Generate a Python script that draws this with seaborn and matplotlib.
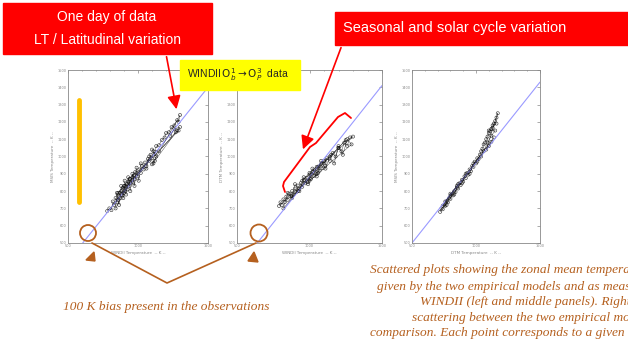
import numpy as np
import pandas as pd
import matplotlib
matplotlib.use('Agg')
import matplotlib.pyplot as plt
import seaborn as sns
from matplotlib.patches import Rectangle, Circle, Polygon

# Dados (temperaturas em K)
esq_x = [780, 795, 810, 820, 830, 840, 850, 855, 860, 870, 875, 880, 890, 895, 900, 905, 910, 920,
         925, 930, 940, 945, 950, 960, 965, 970, 980, 990, 1000, 1010, 1020, 1030, 1040, 1050, 1060,
         1070, 1080, 1090, 1100, 1110, 1120, 1130, 1150, 1170, 1190, 1200, 1220, 1240, 1260, 1280,
         1290, 1300, 1100, 1120, 1270, 1290, 860, 900, 940, 980,
         840, 850, 865, 880, 895, 905, 915, 930, 945, 960, 975, 990, 1005, 1020, 1060, 1080, 1110,
         1130, 1100, 1150, 1280, 1300, 1260, 1230]
esq_y = [685, 700, 690, 740, 720, 760, 735, 780, 750, 790, 760, 800, 775, 820, 790, 830, 800, 840,
         810, 855, 830, 870, 845, 880, 850, 890, 870, 905, 885, 925, 905, 945, 925, 965, 945,
         985, 975, 1010, 990, 1030, 1015, 1060, 1065, 1095, 1110, 1135, 1140, 1170, 1180, 1210,
         1200, 1240, 955, 975, 1140, 1150, 790, 830, 870, 910,
         700, 790, 720, 830, 760, 860, 780, 880, 800, 900, 830, 935, 860, 960, 930, 1000, 960,
         1000, 1040, 1030, 1150, 1170, 1160, 1120]

meio_x = [790, 800, 810, 820, 830, 840, 850, 860, 870, 880, 890, 900, 910, 920, 930, 940, 950, 960,
          970, 980, 990, 1000, 1010, 1020, 1030, 1040, 1050, 1060, 1070, 1080, 1090, 1100, 1110,
          1120, 1140, 1160, 1180, 1200, 1220, 1240, 1260, 1280, 1300, 950, 1000, 1050, 1100, 1150,
          1200, 1250, 880, 920,
          820, 850, 880, 900, 930, 960, 990, 1020, 1050, 1080, 1110, 1140, 1170, 1200, 1230, 1260,
          1290, 1000, 1060]
meio_y = [714, 735, 720, 752, 737, 768, 750, 785, 770, 800, 780, 815, 795, 832, 812, 846, 825, 862,
          845, 877, 852, 895, 870, 910, 888, 925, 900, 942, 918, 958, 932, 972, 948, 990, 975,
          1020, 1000, 1050, 1030, 1080, 1062, 1110, 1115, 860, 905, 940, 975, 1010, 1050, 1095,
          770, 800,
          700, 790, 760, 840, 800, 880, 840, 930, 885, 975, 930, 1000, 960, 1060, 1010, 1100,
          1070, 860, 905]

dir_x = [720, 730, 740, 750, 760, 770, 780, 790, 800, 810, 820, 830, 840, 850, 860, 870, 880, 890,
         900, 910, 920, 930, 940, 950, 960, 970, 980, 990, 1000, 1010, 1020, 1030, 1040, 1050,
         1060, 1070, 1080, 1090, 1100, 1110, 1120, 1130, 1140, 1150, 1160, 1170, 1080, 1100,
         1120, 1140, 760, 800, 850,
         740, 770, 800, 830, 860, 890, 920, 950, 980, 1010, 1040, 1060, 1090, 1120, 1150, 1100,
         1130, 1160]
dir_y = [680, 700, 695, 720, 715, 740, 735, 760, 755, 780, 775, 800, 795, 820, 815, 845, 835, 865,
         855, 885, 875, 905, 895, 925, 915, 945, 940, 970, 960, 990, 985, 1010, 1030, 1045,
         1070, 1080, 1100, 1115, 1135, 1145, 1160, 1165, 1190, 1205, 1225, 1250, 1040, 1060,
         1085, 1110, 740, 775, 830,
         715, 720, 785, 780, 840, 845, 900, 900, 960, 970, 1000, 1030, 1080, 1120, 1150, 1150,
         1180, 1190]

# Linhas de referência (extremos)
ref_esq_x, ref_esq_y = [605, 1500], [500, 1400]
ref_meio_x, ref_meio_y = [640, 1500], [500, 1410]
ref_dir_x, ref_dir_y = [500, 1500], [500, 1430]

paineis = [
    ('esq', esq_x, esq_y, ref_esq_x, ref_esq_y, 'WINDII Temperature  -- K --', 'MSIS Temperature  -- K --',
     [68, 208]),
    ('meio', meio_x, meio_y, ref_meio_x, ref_meio_y, 'WINDII Temperature  -- K --', 'DTM Temperature  -- K --',
     [237, 382]),
    ('dir', dir_x, dir_y, ref_dir_x, ref_dir_y, 'DTM Temperature  -- K --', 'MSIS Temperature  -- K --',
     [412, 540]),
]

W, H = 628, 341
sns.set_style('white')
fig = plt.figure(figsize=(W / 100, H / 100), dpi=100)

cinza = '#888888'
for nome, xs, ys, rx, ry, xl, yl, (px0, px1) in paineis:
    ax = fig.add_axes([px0 / W, 1 - 243 / H, (px1 - px0) / W, 173 / H])
    df = pd.DataFrame({'x': xs, 'y': ys})
    sns.lineplot(x=rx, y=ry, ax=ax, color='#9a9aff', lw=0.8)
    # traços que ligam os pontos, como no original
    sns.lineplot(data=df, x='x', y='y', ax=ax, sort=False, estimator=None, color='black',
                 lw=0.4, alpha=0.6)
    sns.scatterplot(data=df, x='x', y='y', ax=ax, marker='o', s=5, facecolors='none',
                    edgecolor='black', linewidth=0.45, alpha=0.75)
    ax.set_xlim(500, 1500)
    ax.set_ylim(500, 1500)
    ax.set_xticks([500, 1000, 1500])
    ax.set_xticks(np.arange(500, 1501, 100), minor=True)
    ax.set_yticks(np.arange(500, 1501, 100))
    ax.tick_params(axis='both', which='both', direction='in', length=2, width=0.5, color=cinza,
                   labelsize=2.5, labelcolor=cinza, top=True, right=True, pad=1)
    ax.tick_params(which='minor', length=1)
    ax.set_xlabel(xl, fontsize=3, color=cinza, labelpad=2)
    ax.set_ylabel(yl, fontsize=3, color=cinza, labelpad=2)
    for sp in ax.spines.values():
        sp.set_color(cinza)
        sp.set_linewidth(0.6)

# Camada de anotações em pixels
ov = fig.add_axes([0, 0, 1, 1])
ov.set_xlim(0, W)
ov.set_ylim(H, 0)
ov.axis('off')
ov.patch.set_alpha(0)

vermelho = '#ff0000'
marrom = '#b5601f'

# Caixas vermelhas
ov.add_patch(Rectangle((3, 3), 209, 51, color=vermelho))
ov.text(107, 17, 'One day of data', color='white', fontsize=10, ha='center', va='center',
        family='Liberation Sans')
ov.text(107, 40, 'LT / Latitudinal variation', color='white', fontsize=10, ha='center', va='center',
        family='Liberation Sans')
ov.add_patch(Rectangle((335, 12), 300, 33, color=vermelho))
ov.text(343, 28, 'Seasonal and solar cycle variation', color='white', fontsize=10.5, ha='left',
        va='center', family='Liberation Sans')

# Caixa amarela
ov.add_patch(Rectangle((180, 60), 120, 30, color='#ffff00'))
ov.text(187, 75, r'WINDII$\,\mathrm{O}_b^1 \rightarrow \mathrm{O}_P^3$  data', fontsize=7.5,
        ha='left', va='center', family='Liberation Sans')

# Setas vermelhas
ov.annotate('', xy=(177, 112), xytext=(166, 54),
            arrowprops=dict(arrowstyle='-|>,head_length=0.8,head_width=0.4', color=vermelho, lw=1.2))
ov.annotate('', xy=(302, 152), xytext=(342, 45),
            arrowprops=dict(arrowstyle='-|>,head_length=0.8,head_width=0.4', color=vermelho, lw=1.2))
# Colchete
bx = [285, 283, 284, 310, 316, 338, 345, 351]
by = [192, 186, 182, 147, 143, 117, 113, 118]
ov.plot(bx, by, color=vermelho, lw=1.3, solid_capstyle='round', solid_joinstyle='round')

# Barra laranja
ov.plot([79, 79], [100, 202], color='#ffc000', lw=3.5, solid_capstyle='round')

# Círculos marrons e linhas
ov.add_patch(Circle((88, 233), 8, fill=False, ec=marrom, lw=1.3))
ov.add_patch(Circle((259, 233), 8.5, fill=False, ec=marrom, lw=1.3))
ov.plot([92, 167, 256], [243, 283, 243], color=marrom, lw=1.2)
ov.add_patch(Polygon([[86, 260], [94, 252], [95, 261]], color=marrom))
ov.add_patch(Polygon([[248, 261], [254, 252], [258, 262]], color=marrom))

ov.text(63, 307, '100 K bias present in the observations', color=marrom, fontsize=9.6,
        style='italic', family='Liberation Serif', ha='left', va='center')

legenda = [
    (370, 270, 'Scattered plots showing the zonal mean temperature'),
    (377, 287, 'given by the two empirical models and as measured by'),
    (420, 302, 'WINDII (left and middle panels). Right panel shows the'),
    (412, 318, 'scattering between the two empirical models for'),
    (370, 333, 'comparison. Each point corresponds to a given latitude'),
]
for lx, ly, t in legenda:
    ov.text(lx, ly, t, color=marrom, fontsize=9.6, style='italic', family='Liberation Serif',
            ha='left', va='center', clip_on=True)

fig.savefig('out.png', dpi=100)
